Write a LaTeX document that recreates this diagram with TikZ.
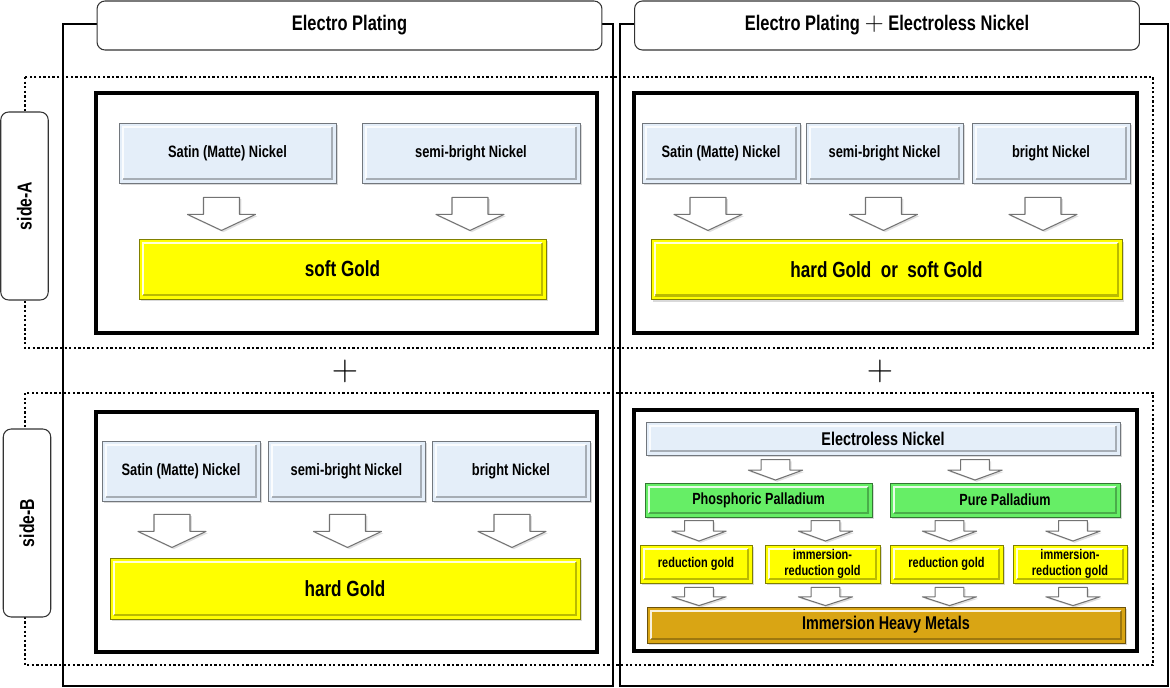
\documentclass[tikz,border=0pt]{standalone}
\usepackage{fontspec}
\setmainfont{Liberation Sans}[FakeStretch=0.78]
\usetikzlibrary{shadows,calc}

\definecolor{nickelblue}{HTML}{E4EEF9}
\definecolor{platyellow}{HTML}{FFFF00}
\definecolor{palgreen}{HTML}{66EE66}
\definecolor{heavygold}{HTML}{D9A514}

\tikzset{
  colframe/.style={draw=black, line width=0.6pt},
  zone/.style={draw=black, line width=1.3pt, dash pattern=on 1.3pt off 1.3pt},
  panel/.style={draw=black, line width=1.8pt},
  hdr/.style={draw=black!80, fill=white, rounded corners=4.5pt, line width=0.6pt,
    minimum width=10.1cm, minimum height=0.98cm, font=\fontsize{12}{14}\selectfont\bfseries},
  sidelbl/.style={draw=black!80, fill=white, rounded corners=4.5pt, line width=0.6pt,
    rotate=90, minimum width=3.76cm, minimum height=0.95cm, font=\fontsize{11.5}{13}\selectfont\bfseries},
  bevel/.style={fill=#1, draw=#1!50!black, line width=0.5pt, inner sep=0pt,
    drop shadow={opacity=0.3, shadow xshift=1.2pt, shadow yshift=-1.2pt},
    path picture={
      \draw[white, line width=1.2pt, opacity=0.85]
        ([shift={(2.2pt,2.2pt)}]path picture bounding box.south west) |- ([shift={(-2.2pt,-2.2pt)}]path picture bounding box.north east);
      \draw[#1!55!black, line width=1.4pt, opacity=0.6]
        ([shift={(2.2pt,2.2pt)}]path picture bounding box.south west) -| ([shift={(-2.2pt,-2.2pt)}]path picture bounding box.north east);
    }},
  nickel/.style={bevel=nickelblue, minimum height=1.2cm, font=\fontsize{9.4}{11}\selectfont\bfseries},
  gold/.style={bevel=platyellow, minimum height=1.2cm, font=\fontsize{12.5}{14}\selectfont\bfseries},
  pall/.style={bevel=palgreen, minimum height=0.68cm, font=\fontsize{9.2}{11}\selectfont\bfseries},
  smallgold/.style={bevel=platyellow, minimum height=0.76cm, align=center, font=\fontsize{8}{9}\selectfont\bfseries},
  heavy/.style={bevel=heavygold, minimum height=0.72cm, font=\fontsize{10.5}{12}\selectfont\bfseries},
  arrline/.style={draw=black!55, fill=white, line width=0.6pt, line join=round,
    drop shadow={opacity=0.25, shadow xshift=1pt, shadow yshift=-1pt}},
  darr/.pic={\draw[arrline] (-18,0) -- (18,0) -- (18,17) -- (34,17) -- (0,33) -- (-34,17) -- (-18,17) -- cycle;}
}

\begin{document}
\begin{tikzpicture}[x=0.02cm, y=-0.02cm]
    \useasboundingbox (0,0) rectangle (1170,687);

    % columns and sides
    \draw[colframe] (63,24) rectangle (613,686);
    \draw[colframe] (620,24) rectangle (1168,686);
    \draw[zone] (25,77) rectangle (1153,348);
    \draw[zone] (25,393) rectangle (1153,665);

    \node[sidelbl] (sideA) at (24.5,206) {side-A};
    \node[sidelbl] (sideB) at (27,523) {side-B};
    \node[hdr] (hdrL) at (349.5,25.5) {Electro Plating};
    \node[hdr] (hdrR) at (887,25.5) {Electro Plating {\Large$+$} Electroless Nickel};

    \draw[panel] (96,93) rectangle (597,333);
    \draw[panel] (634,93) rectangle (1137,333);
    \draw[panel] (96,412) rectangle (597,652);
    \draw[panel] (634,410) rectangle (1137,651);

    % side-A, electro plating
    \node[nickel, minimum width=4.34cm] (la1) at (227.5,153) {Satin (Matte) Nickel};
    \node[nickel, minimum width=4.36cm] (la2) at (471,153) {semi-bright Nickel};
    \node[gold, minimum width=8.14cm] (lagold) at (342.5,269) {soft Gold};
    \pic at ($(la1.south)+(-6,14)$) {darr};
    \pic at ($(la2.south)+(-1,14)$) {darr};

    % side-A, electro plating + electroless nickel
    \node[nickel, minimum width=3.16cm] (ra1) at (721,153) {Satin (Matte) Nickel};
    \node[nickel, minimum width=3.14cm] (ra2) at (884.5,153) {semi-bright Nickel};
    \node[nickel, minimum width=3.16cm] (ra3) at (1051,153) {bright Nickel};
    \node[gold, minimum width=9.42cm] (ragold) at (886.5,269.5) {hard Gold\ \ or\ \ soft Gold};
    \pic at ($(ra1.south)+(-13,14)$) {darr};
    \pic at ($(ra2.south)+(-1,14)$) {darr};
    \pic at ($(ra3.south)+(-8,14)$) {darr};

    % side-B, electro plating
    \node[nickel, minimum width=3.16cm] (lb1) at (181,471) {Satin (Matte) Nickel};
    \node[nickel, minimum width=3.14cm] (lb2) at (346.5,471) {semi-bright Nickel};
    \node[nickel, minimum width=3.16cm] (lb3) at (511,471) {bright Nickel};
    \node[gold, minimum width=9.4cm, minimum height=1.22cm] (lbgold) at (345,588.5) {hard Gold};
    \pic at ($(lb1.south)+(-9,13)$) {darr};
    \pic at ($(lb2.south)+(1,13)$) {darr};
    \pic at ($(lb3.south)+(1,13)$) {darr};

    % side-B, electroless nickel
    \node[nickel, minimum width=9.48cm, minimum height=0.66cm, font=\fontsize{10.5}{12}\selectfont\bfseries] (en) at (883,438.5) {Electroless Nickel};
    \node[pall, minimum width=4.54cm] (pp) at (758.5,500) {Phosphoric Palladium};
    \node[pall, minimum width=4.6cm] (pu) at (1005,500) {Pure Palladium};
    \node[smallgold, minimum width=2.24cm] (rg1) at (696,564) {reduction gold};
    \node[smallgold, minimum width=2.3cm] (ig1) at (822.5,564) {immersion-\\reduction gold};
    \node[smallgold, minimum width=2.26cm] (rg2) at (946.5,564) {reduction gold};
    \node[smallgold, minimum width=2.28cm] (ig2) at (1070,564) {immersion-\\reduction gold};
    \node[heavy, minimum width=9.56cm] (hm) at (886,625) {Immersion Heavy Metals};

    \pic[xscale=0.8, yscale=0.62] at ($(pp.north)+(17,-23)$) {darr};
    \pic[xscale=0.8, yscale=0.62] at ($(pu.north)+(-30,-23)$) {darr};
    \foreach \g in {rg1,ig1,rg2,ig2} {
      \pic[xscale=0.8, yscale=0.62] at ($(\g.north)+(3,-24)$) {darr};
      \pic[xscale=0.8, yscale=0.55] at ($(\g.south)+(3,4)$) {darr};
    }

    % plus between the sides
    \node (plusL) at (345,371) {\fontsize{20}{20}\selectfont$+$};
    \node (plusR) at (880,371) {\fontsize{20}{20}\selectfont$+$};
\end{tikzpicture}
\end{document}
